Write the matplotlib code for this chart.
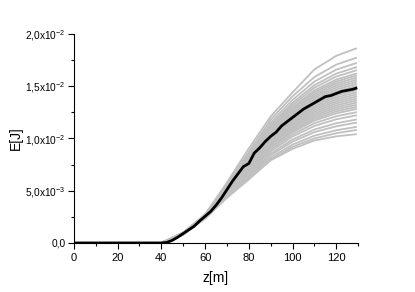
import math
import matplotlib
matplotlib.use("Agg")
import matplotlib.pyplot as plt
from matplotlib.ticker import MultipleLocator, FuncFormatter

plt.rcParams['font.family'] = ['Liberation Sans', 'DejaVu Sans']
plt.rcParams['mathtext.fontset'] = 'custom'
plt.rcParams['mathtext.rm'] = 'Liberation Sans'

# mean curve, E in units of 1e-3 J
z_mean = [0, 40, 42.5, 45, 47.5, 50, 52.5, 55, 57.5, 60, 62.5, 65, 67.5, 70, 72.5,
          75, 77.5, 80, 82.5, 85, 87.5, 90, 92.5, 95, 97.5, 100, 102.5, 105, 107.5,
          110, 112.5, 115, 117.5, 120, 122.5, 125, 127.5, 129]
e_mean = [0, 0.0, 0.05, 0.25, 0.55, 0.9, 1.25, 1.6, 2.1, 2.55, 3.0, 3.6, 4.3, 5.1, 5.9,
          6.6, 7.3, 7.6, 8.6, 9.1, 9.7, 10.2, 10.6, 11.2, 11.6, 12.0, 12.4, 12.8, 13.1,
          13.4, 13.7, 14.0, 14.1, 14.3, 14.5, 14.6, 14.7, 14.8]

# individual runs (gray), E in units of 1e-3 J
z_runs = [0, 40, 50, 60, 70, 80, 90, 100, 110, 120, 129]
runs = [
    [0, 0, 1.0, 2.74, 5.78, 9.04, 12.1, 14.4, 16.6, 17.9, 18.6],
    [0, 0, 0.95, 2.70, 5.62, 8.70, 11.80, 14.03, 15.87, 17.06, 17.7],
    [0, 0, 0.9, 2.67, 5.53, 8.51, 11.52, 13.68, 15.44, 16.58, 17.2],
    [0, 0, 1.0, 2.65, 5.46, 8.36, 11.3, 13.4, 15.1, 16.2, 16.8],
    [0, 0, 0.85, 2.64, 5.41, 8.25, 11.14, 13.19, 14.85, 15.92, 16.5],
    [0, 0, 0.95, 2.62, 5.35, 8.13, 10.97, 12.98, 14.59, 15.63, 16.2],
    [0, 0, 0.9, 2.61, 5.32, 8.06, 10.86, 12.84, 14.42, 15.44, 16.0],
    [0, 0, 0.8, 2.6, 5.28, 7.98, 10.75, 12.7, 14.25, 15.25, 15.8],
    [0, 0, 0.9, 2.59, 5.24, 7.9, 10.64, 12.56, 14.08, 15.06, 15.6],
    [0, 0, 1.0, 2.58, 5.21, 7.83, 10.53, 12.42, 13.91, 14.87, 15.4],
    [0, 0, 0.85, 2.57, 5.17, 7.75, 10.42, 12.28, 13.74, 14.68, 15.2],
    [0, 0, 0.95, 2.56, 5.14, 7.68, 10.31, 12.14, 13.57, 14.49, 15.0],
    [0, 0, 0.9, 2.55, 5.1, 7.6, 10.2, 12.0, 13.4, 14.3, 14.8],
    [0, 0, 0.8, 2.54, 5.06, 7.52, 10.09, 11.86, 13.23, 14.11, 14.6],
    [0, 0, 0.9, 2.53, 5.03, 7.45, 9.98, 11.72, 13.06, 13.92, 14.4],
    [0, 0, 1.0, 2.52, 4.99, 7.37, 9.87, 11.58, 12.89, 13.73, 14.2],
    [0, 0, 0.85, 2.51, 4.96, 7.3, 9.76, 11.44, 12.72, 13.54, 14.0],
    [0, 0, 0.9, 2.5, 4.92, 7.22, 9.65, 11.3, 12.55, 13.35, 13.8],
    [0, 0, 0.95, 2.49, 4.88, 7.14, 9.54, 11.16, 12.38, 13.16, 13.6],
    [0, 0, 0.8, 2.48, 4.85, 7.07, 9.43, 11.02, 12.21, 12.97, 13.4],
    [0, 0, 0.9, 2.47, 4.81, 6.99, 9.32, 10.88, 12.04, 12.78, 13.2],
    [0, 0, 0.85, 2.46, 4.78, 6.92, 9.21, 10.74, 11.87, 12.59, 13.0],
    [0, 0, 0.9, 2.45, 4.74, 6.84, 9.1, 10.6, 11.7, 12.4, 12.8],
    [0, 0, 0.8, 2.44, 4.69, 6.73, 8.94, 10.39, 11.45, 12.12, 12.5],
    [0, 0, 0.9, 2.42, 4.63, 6.61, 8.77, 10.18, 11.19, 11.83, 12.2],
    [0, 0, 0.85, 2.4, 4.56, 6.46, 8.55, 9.9, 10.85, 11.45, 11.8],
    [0, 0, 0.9, 2.39, 4.51, 6.35, 8.39, 9.69, 10.6, 11.16, 11.5],
    [0, 0, 0.8, 2.37, 4.43, 6.19, 8.17, 9.41, 10.26, 10.78, 11.1],
    [0, 0, 0.85, 2.35, 4.38, 6.08, 8.0, 9.2, 10.0, 10.5, 10.8],
    [0, 0, 0.8, 2.33, 4.31, 6.1, 7.9, 9.0, 9.8, 10.2, 10.4],
]


def fmt(v, pos):
    if abs(v) < 1e-12:
        return "0,0"
    exp = int(math.floor(math.log10(abs(v)) + 1e-9))
    m = v / 10 ** exp
    s = ("%.1f" % m).replace(".", "{,}")
    return r"$\mathregular{%sx10^{%d}}$" % (s, exp)


fig = plt.figure(figsize=(4.15, 2.92), dpi=100)
ax = fig.add_axes([0.178, 0.168, 0.685, 0.716])

for r in runs:
    ax.plot(z_runs, [v * 1e-3 for v in r], color='#c0c0c0', linewidth=1.3)
ax.plot(z_mean, [v * 1e-3 for v in e_mean], color='black', linewidth=2.0)

ax.set_xlim(0, 130)
ax.set_ylim(0, 0.02)
ax.xaxis.set_major_locator(MultipleLocator(20))
ax.xaxis.set_minor_locator(MultipleLocator(10))
ax.yaxis.set_major_locator(MultipleLocator(0.005))
ax.yaxis.set_minor_locator(MultipleLocator(0.0025))
ax.yaxis.set_major_formatter(FuncFormatter(fmt))

for s in ['top', 'right']:
    ax.spines[s].set_visible(False)
ax.tick_params(which='major', direction='out', length=4, width=0.8, labelsize=8)
ax.tick_params(axis='y', which='major', labelsize=7.3, pad=2)
ax.tick_params(which='minor', direction='out', length=2.5, width=0.8)

ax.set_xlabel("z[m]", fontsize=10)
ax.set_ylabel("E[J]", fontsize=10)
ax.yaxis.set_label_coords(-0.18, 0.5)
ax.xaxis.set_label_coords(0.5, -0.134)

fig.savefig("out.png", dpi=100)
